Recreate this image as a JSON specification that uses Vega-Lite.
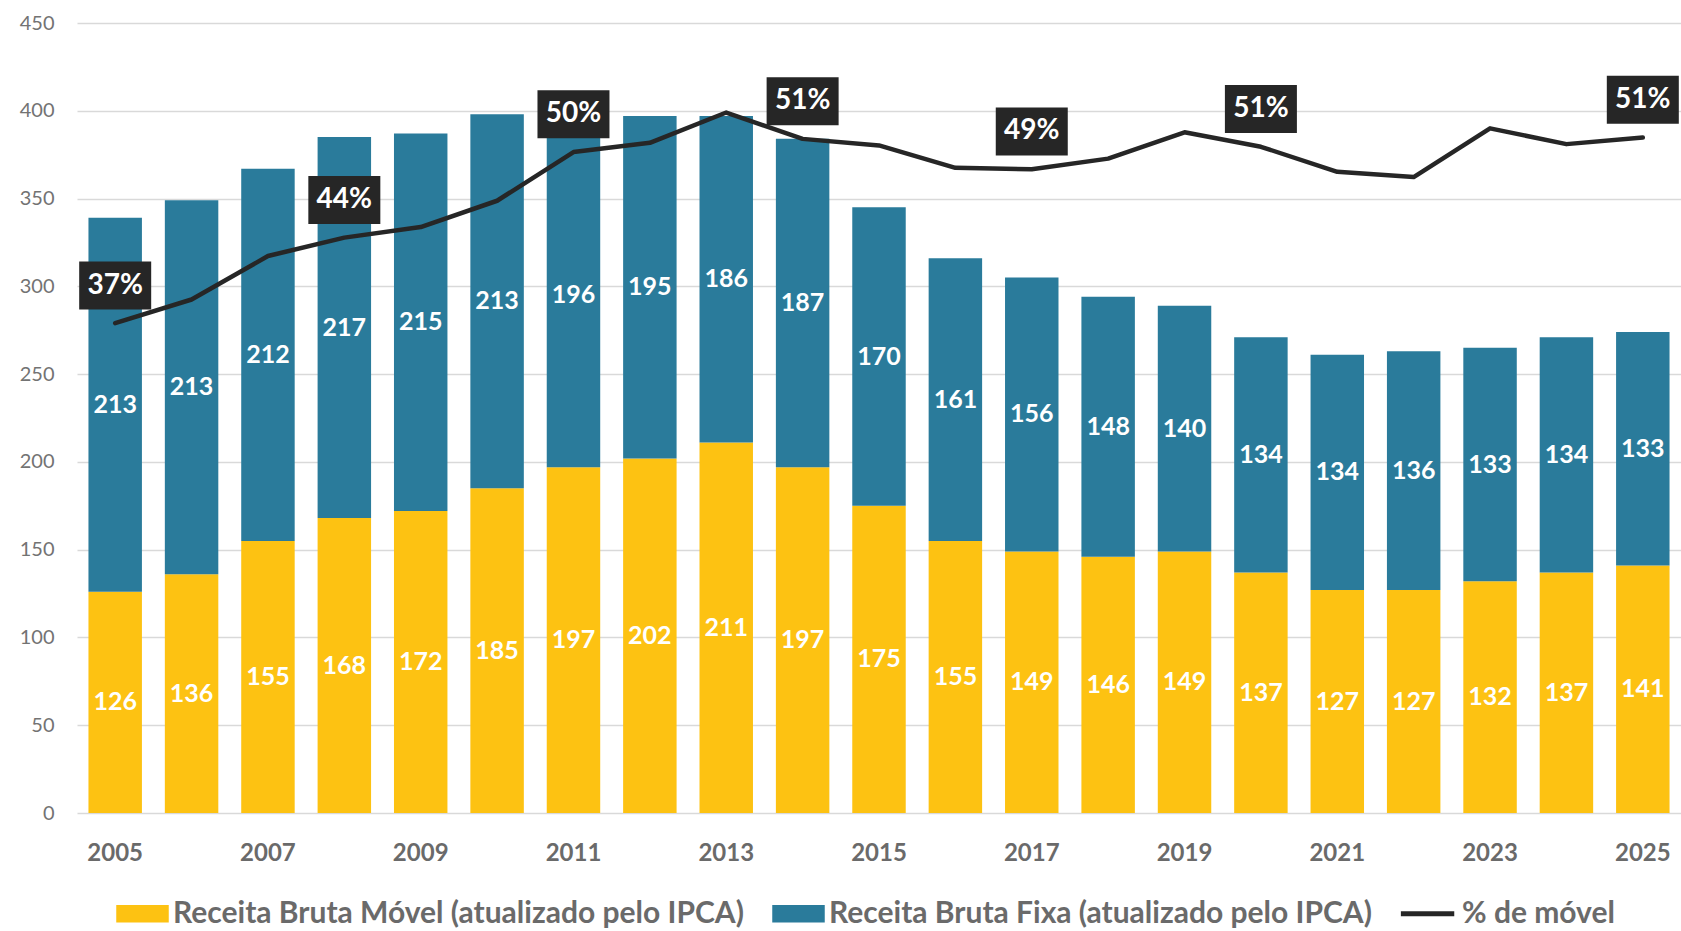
{
  "$schema": "https://vega.github.io/schema/vega-lite/v6.json",
  "width": 1604,
  "height": 790,
  "autosize": "none",
  "padding": {"left": 77, "top": 23, "right": 0, "bottom": 118},
  "background": "white",
  "config": {
    "font": "Lato",
    "view": {"stroke": null},
    "axis": {"domain": false, "ticks": false, "grid": false}
  },
  "datasets": {
    "bars": [
      {"year": 2005, "series": "Receita Bruta Móvel (atualizado pelo IPCA)", "value": 126, "order": 1},
      {"year": 2005, "series": "Receita Bruta Fixa (atualizado pelo IPCA)", "value": 213, "order": 2},
      {"year": 2006, "series": "Receita Bruta Móvel (atualizado pelo IPCA)", "value": 136, "order": 1},
      {"year": 2006, "series": "Receita Bruta Fixa (atualizado pelo IPCA)", "value": 213, "order": 2},
      {"year": 2007, "series": "Receita Bruta Móvel (atualizado pelo IPCA)", "value": 155, "order": 1},
      {"year": 2007, "series": "Receita Bruta Fixa (atualizado pelo IPCA)", "value": 212, "order": 2},
      {"year": 2008, "series": "Receita Bruta Móvel (atualizado pelo IPCA)", "value": 168, "order": 1},
      {"year": 2008, "series": "Receita Bruta Fixa (atualizado pelo IPCA)", "value": 217, "order": 2},
      {"year": 2009, "series": "Receita Bruta Móvel (atualizado pelo IPCA)", "value": 172, "order": 1},
      {"year": 2009, "series": "Receita Bruta Fixa (atualizado pelo IPCA)", "value": 215, "order": 2},
      {"year": 2010, "series": "Receita Bruta Móvel (atualizado pelo IPCA)", "value": 185, "order": 1},
      {"year": 2010, "series": "Receita Bruta Fixa (atualizado pelo IPCA)", "value": 213, "order": 2},
      {"year": 2011, "series": "Receita Bruta Móvel (atualizado pelo IPCA)", "value": 197, "order": 1},
      {"year": 2011, "series": "Receita Bruta Fixa (atualizado pelo IPCA)", "value": 196, "order": 2},
      {"year": 2012, "series": "Receita Bruta Móvel (atualizado pelo IPCA)", "value": 202, "order": 1},
      {"year": 2012, "series": "Receita Bruta Fixa (atualizado pelo IPCA)", "value": 195, "order": 2},
      {"year": 2013, "series": "Receita Bruta Móvel (atualizado pelo IPCA)", "value": 211, "order": 1},
      {"year": 2013, "series": "Receita Bruta Fixa (atualizado pelo IPCA)", "value": 186, "order": 2},
      {"year": 2014, "series": "Receita Bruta Móvel (atualizado pelo IPCA)", "value": 197, "order": 1},
      {"year": 2014, "series": "Receita Bruta Fixa (atualizado pelo IPCA)", "value": 187, "order": 2},
      {"year": 2015, "series": "Receita Bruta Móvel (atualizado pelo IPCA)", "value": 175, "order": 1},
      {"year": 2015, "series": "Receita Bruta Fixa (atualizado pelo IPCA)", "value": 170, "order": 2},
      {"year": 2016, "series": "Receita Bruta Móvel (atualizado pelo IPCA)", "value": 155, "order": 1},
      {"year": 2016, "series": "Receita Bruta Fixa (atualizado pelo IPCA)", "value": 161, "order": 2},
      {"year": 2017, "series": "Receita Bruta Móvel (atualizado pelo IPCA)", "value": 149, "order": 1},
      {"year": 2017, "series": "Receita Bruta Fixa (atualizado pelo IPCA)", "value": 156, "order": 2},
      {"year": 2018, "series": "Receita Bruta Móvel (atualizado pelo IPCA)", "value": 146, "order": 1},
      {"year": 2018, "series": "Receita Bruta Fixa (atualizado pelo IPCA)", "value": 148, "order": 2},
      {"year": 2019, "series": "Receita Bruta Móvel (atualizado pelo IPCA)", "value": 149, "order": 1},
      {"year": 2019, "series": "Receita Bruta Fixa (atualizado pelo IPCA)", "value": 140, "order": 2},
      {"year": 2020, "series": "Receita Bruta Móvel (atualizado pelo IPCA)", "value": 137, "order": 1},
      {"year": 2020, "series": "Receita Bruta Fixa (atualizado pelo IPCA)", "value": 134, "order": 2},
      {"year": 2021, "series": "Receita Bruta Móvel (atualizado pelo IPCA)", "value": 127, "order": 1},
      {"year": 2021, "series": "Receita Bruta Fixa (atualizado pelo IPCA)", "value": 134, "order": 2},
      {"year": 2022, "series": "Receita Bruta Móvel (atualizado pelo IPCA)", "value": 127, "order": 1},
      {"year": 2022, "series": "Receita Bruta Fixa (atualizado pelo IPCA)", "value": 136, "order": 2},
      {"year": 2023, "series": "Receita Bruta Móvel (atualizado pelo IPCA)", "value": 132, "order": 1},
      {"year": 2023, "series": "Receita Bruta Fixa (atualizado pelo IPCA)", "value": 133, "order": 2},
      {"year": 2024, "series": "Receita Bruta Móvel (atualizado pelo IPCA)", "value": 137, "order": 1},
      {"year": 2024, "series": "Receita Bruta Fixa (atualizado pelo IPCA)", "value": 134, "order": 2},
      {"year": 2025, "series": "Receita Bruta Móvel (atualizado pelo IPCA)", "value": 141, "order": 1},
      {"year": 2025, "series": "Receita Bruta Fixa (atualizado pelo IPCA)", "value": 133, "order": 2}
    ],
    "pct": [
      {"year": 2005, "pct": 37.2, "label": "37%"},
      {"year": 2006, "pct": 39.0, "label": ""},
      {"year": 2007, "pct": 42.3, "label": ""},
      {"year": 2008, "pct": 43.7, "label": "44%"},
      {"year": 2009, "pct": 44.5, "label": ""},
      {"year": 2010, "pct": 46.5, "label": ""},
      {"year": 2011, "pct": 50.2, "label": "50%"},
      {"year": 2012, "pct": 50.9, "label": ""},
      {"year": 2013, "pct": 53.2, "label": ""},
      {"year": 2014, "pct": 51.2, "label": "51%"},
      {"year": 2015, "pct": 50.7, "label": ""},
      {"year": 2016, "pct": 49.0, "label": ""},
      {"year": 2017, "pct": 48.9, "label": "49%"},
      {"year": 2018, "pct": 49.7, "label": ""},
      {"year": 2019, "pct": 51.7, "label": ""},
      {"year": 2020, "pct": 50.6, "label": "51%"},
      {"year": 2021, "pct": 48.7, "label": ""},
      {"year": 2022, "pct": 48.3, "label": ""},
      {"year": 2023, "pct": 52.0, "label": ""},
      {"year": 2024, "pct": 50.8, "label": ""},
      {"year": 2025, "pct": 51.3, "label": "51%"}
    ]
  },
  "layer": [
    {
      "data": {"name": "bars"},
      "transform": [
        {"stack": "value", "groupby": ["year"], "sort": [{"field": "order", "order": "ascending"}], "as": ["v0", "v1"]},
        {"calculate": "(datum.v0 + datum.v1) / 2", "as": "mid"}
      ],
      "layer": [
        {
          "mark": {"type": "bar"},
          "encoding": {
            "x": {
              "field": "year", "type": "ordinal",
              "scale": {"paddingInner": 0.3, "paddingOuter": 0.15},
              "axis": {
                "title": null, "labelAngle": 0,
                "values": [2005, 2007, 2009, 2011, 2013, 2015, 2017, 2019, 2021, 2023, 2025],
                "labelFont": "Lato", "labelFontSize": 24, "labelFontWeight": "bold",
                "labelColor": "#6a6a6a", "labelPadding": 28
              }
            },
            "y": {
              "field": "v0", "type": "quantitative",
              "scale": {"domain": [0, 450], "nice": false},
              "axis": {
                "title": null, "values": [0, 50, 100, 150, 200, 250, 300, 350, 400, 450],
                "grid": true, "gridColor": "#d9d9d9", "gridWidth": 1.5,
                "labelFont": "Lato", "labelFontSize": 20, "labelColor": "#737373", "labelPadding": 23
              }
            },
            "y2": {"field": "v1"},
            "color": {
              "field": "series", "type": "nominal",
              "scale": {
                "domain": ["Receita Bruta Móvel (atualizado pelo IPCA)", "Receita Bruta Fixa (atualizado pelo IPCA)", "% de móvel"],
                "range": ["#fdc212", "#2a7b9b", "#262626"]
              },
              "legend": {
                "title": null, "orient": "none", "direction": "horizontal",
                "legendX": 48, "legendY": 873,
                "symbolType": "M-1.5,-0.5H1.5V0.5H-1.5Z", "symbolSize": 1225,
                "labelFont": "Lato", "labelFontSize": 30, "labelFontWeight": "bold", "labelColor": "#6a6a6a",
                "labelOffset": 13, "columnPadding": 28, "labelLimit": 900,
                "encode": {
                  "symbols": {
                    "update": {
                      "shape": {"signal": "datum.value === '% de móvel' ? 'M-1.75,-0.14H1.3V0.14H-1.75Z' : 'M-1.5,-0.5H1.5V0.5H-1.5Z'"},
                      "fill": {"scale": "color", "field": "value"},
                      "fillOpacity": {"value": 1},
                      "opacity": {"value": 1},
                      "strokeWidth": {"value": 0}
                    }
                  }
                }
              }
            }
          }
        },
        {
          "mark": {"type": "text", "font": "Lato", "fontSize": 25, "fontWeight": "bold", "color": "white", "baseline": "middle", "align": "center"},
          "encoding": {
            "x": {"field": "year", "type": "ordinal"},
            "y": {"field": "mid", "type": "quantitative"},
            "text": {"field": "value", "type": "quantitative", "format": "d"}
          }
        }
      ]
    },
    {
      "data": {"name": "pct"},
      "layer": [
        {
          "mark": {"type": "line", "color": "#262626", "strokeWidth": 4.5, "strokeJoin": "round", "strokeCap": "round"},
          "encoding": {
            "x": {"field": "year", "type": "ordinal"},
            "y": {"field": "pct", "type": "quantitative", "scale": {"domain": [0, 60], "nice": false}, "axis": null}
          }
        },
        {
          "transform": [{"filter": "datum.label !== ''"}],
          "mark": {"type": "point", "shape": "M-1.5,-1H1.5V1H-1.5Z", "size": 2304, "filled": true, "fill": "#262626", "opacity": 1, "strokeWidth": 0, "yOffset": -37.7},
          "encoding": {
            "x": {"field": "year", "type": "ordinal"},
            "y": {"field": "pct", "type": "quantitative"}
          }
        },
        {
          "transform": [{"filter": "datum.label !== ''"}],
          "mark": {"type": "text", "font": "Lato", "fontSize": 28, "fontWeight": "bold", "color": "white", "baseline": "middle", "align": "center", "yOffset": -37.7},
          "encoding": {
            "x": {"field": "year", "type": "ordinal"},
            "y": {"field": "pct", "type": "quantitative"},
            "text": {"field": "label", "type": "nominal"}
          }
        }
      ]
    }
  ],
  "resolve": {"scale": {"y": "independent"}}
}
